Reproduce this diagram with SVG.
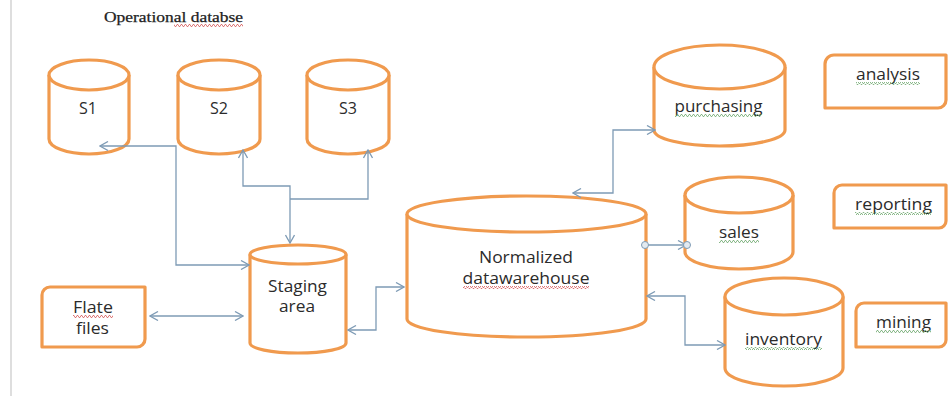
<svg xmlns="http://www.w3.org/2000/svg" width="948" height="396" viewBox="0 0 948 396">
<defs>
<style>
.shape{fill:#fff;stroke:#F09A4E;stroke-width:3.2;stroke-linejoin:round}
.conn{fill:none;stroke:#7E9BB5;stroke-width:1.3}
.lbl{font-family:"Open Sans","Liberation Sans",sans-serif;font-size:15.5px;fill:#2b2b2b;text-anchor:middle}
.title{font-family:"Liberation Serif","DejaVu Serif",serif;font-size:14.5px;fill:#222;text-anchor:middle;stroke:#222;stroke-width:0.25}
.sqr{fill:url(#zigR)}
.sqg{fill:url(#zigG)}
</style>
<marker id="arr" viewBox="0 0 10 10" refX="9" refY="5" markerWidth="10" markerHeight="10" markerUnits="userSpaceOnUse" orient="auto-start-reverse">
<path d="M1,0.5 L9,5 L1,9.5" fill="none" stroke="#7E9BB5" stroke-width="1.3"/>
</marker>
<pattern id="zigR" width="4" height="3" patternUnits="userSpaceOnUse">
<path d="M0,2.5 L1,0.5 L2,0.5 L3,2.5 L4,2.5" fill="none" stroke="#D45A5A" stroke-width="0.8"/>
</pattern>
<pattern id="zigG" width="4" height="3" patternUnits="userSpaceOnUse">
<path d="M0,2.5 L1,0.5 L2,0.5 L3,2.5 L4,2.5" fill="none" stroke="#6FA86F" stroke-width="0.8"/>
</pattern>
</defs>

<rect width="948" height="396" fill="#fff"/>
<line x1="11" y1="0" x2="11" y2="396" stroke="#C8C8C8" stroke-width="1.2"/>

<g id="title">
<text class="title" x="173.5" y="22" textLength="139" lengthAdjust="spacingAndGlyphs">Operational databse</text>
<rect class="sqr" x="174" y="24" width="69" height="3"/>
</g>

<g id="S1">
<path class="shape" d="M49,75 V139 A40,15 0 0 0 129,139 V75"/>
<ellipse class="shape" cx="89" cy="75" rx="40" ry="15"/>
<text class="lbl" x="88" y="114" textLength="18" lengthAdjust="spacingAndGlyphs">S1</text>
</g>
<g id="S2">
<path class="shape" d="M178,75 V139 A41,15 0 0 0 260,139 V75"/>
<ellipse class="shape" cx="219" cy="75" rx="41" ry="15"/>
<text class="lbl" x="219" y="114" textLength="18" lengthAdjust="spacingAndGlyphs">S2</text>
</g>
<g id="S3">
<path class="shape" d="M307,75 V139 A41,15 0 0 0 389,139 V75"/>
<ellipse class="shape" cx="348" cy="75" rx="41" ry="15"/>
<text class="lbl" x="348" y="114" textLength="18" lengthAdjust="spacingAndGlyphs">S3</text>
</g>

<g id="staging">
<path class="shape" d="M250,254.5 V343 A48,10 0 0 0 346,343 V254.5"/>
<ellipse class="shape" cx="298" cy="254.5" rx="48" ry="9.5"/>
<text class="lbl" x="297.5" y="292" textLength="59" lengthAdjust="spacingAndGlyphs">Staging</text>
<text class="lbl" x="297" y="312" textLength="36" lengthAdjust="spacingAndGlyphs">area</text>
</g>

<g id="flate">
<path class="shape" d="M50,287 H145 V339 A8,8 0 0 1 137,347 H42 V295 A8,8 0 0 1 50,287 Z"/>
<text class="lbl" x="93" y="313" textLength="40" lengthAdjust="spacingAndGlyphs">Flate</text>
<rect class="sqr" x="73" y="315" width="40" height="3"/>
<text class="lbl" x="92.5" y="334" textLength="33" lengthAdjust="spacingAndGlyphs">files</text>
</g>

<g id="normalized">
<path class="shape" d="M407,214 V319 A119.5,18 0 0 0 646,319 V214"/>
<ellipse class="shape" cx="526.5" cy="214" rx="119.5" ry="18"/>
<text class="lbl" x="526" y="263" textLength="94" lengthAdjust="spacingAndGlyphs">Normalized</text>
<text class="lbl" x="526" y="284" textLength="127" lengthAdjust="spacingAndGlyphs">datawarehouse</text>
<rect class="sqr" x="463" y="286" width="126" height="3"/>
</g>

<g id="purchasing">
<path class="shape" d="M654,67 V130 A65.5,16 0 0 0 785,130 V67"/>
<ellipse class="shape" cx="719.5" cy="67" rx="65.5" ry="22"/>
<text class="lbl" x="718.5" y="112" textLength="88" lengthAdjust="spacingAndGlyphs">purchasing</text>
<rect class="sqg" x="675" y="114" width="87" height="3"/>
</g>

<g id="sales">
<path class="shape" d="M685,195 V252 A54,17 0 0 0 793,252 V195"/>
<ellipse class="shape" cx="739" cy="195" rx="54" ry="18"/>
<text class="lbl" x="739" y="238" textLength="40" lengthAdjust="spacingAndGlyphs">sales</text>
<rect class="sqg" x="719" y="240" width="40" height="3"/>
</g>

<g id="inventory">
<path class="shape" d="M725,296.5 V368 A59,18 0 0 0 843,368 V296.5"/>
<ellipse class="shape" cx="784" cy="296.5" rx="59" ry="18.5"/>
<text class="lbl" x="783.5" y="345" textLength="77" lengthAdjust="spacingAndGlyphs">inventory</text>
<rect class="sqg" x="745" y="347" width="77" height="3"/>
</g>

<g id="analysis">
<path class="shape" d="M834,55 H946 V100 A8,8 0 0 1 938,108 H825 V64 A9,9 0 0 1 834,55 Z"/>
<text class="lbl" x="888" y="80" textLength="64" lengthAdjust="spacingAndGlyphs">analysis</text>
<rect class="sqg" x="856" y="82" width="64" height="3"/>
</g>

<g id="reporting">
<path class="shape" d="M842,185 H946 V221 A7,7 0 0 1 939,228 H834 V193 A8,8 0 0 1 842,185 Z"/>
<text class="lbl" x="893.5" y="210" textLength="77" lengthAdjust="spacingAndGlyphs">reporting</text>
<rect class="sqg" x="855" y="212" width="77" height="3"/>
</g>

<g id="mining">
<path class="shape" d="M864,303 H946 V340 A7,7 0 0 1 939,347 H856 V311 A8,8 0 0 1 864,303 Z"/>
<text class="lbl" x="903.5" y="328" textLength="55" lengthAdjust="spacingAndGlyphs">mining</text>
<rect class="sqg" x="876" y="330" width="55" height="3"/>
</g>

<g id="connectors">
<path class="conn" d="M100,146 H176 V265 H249" marker-start="url(#arr)" marker-end="url(#arr)"/>
<path class="conn" d="M243,150 V186 H290 V243" marker-start="url(#arr)" marker-end="url(#arr)"/>
<path class="conn" d="M368,150 V199 H290" marker-start="url(#arr)"/>
<path class="conn" d="M150,316 H243" marker-start="url(#arr)" marker-end="url(#arr)"/>
<path class="conn" d="M348,330 H376 V287 H404" marker-start="url(#arr)" marker-end="url(#arr)"/>
<path class="conn" d="M573,193 H613 V130 H655" marker-start="url(#arr)" marker-end="url(#arr)"/>
<path class="conn" d="M646,245 H686" marker-end="url(#arr)"/>
<path class="conn" d="M647,296 H685 V345 H725" marker-start="url(#arr)" marker-end="url(#arr)"/>
<circle cx="645" cy="245" r="3.5" fill="#E3EAF0" stroke="#7E9BB5" stroke-width="1"/>
<circle cx="687" cy="245" r="3.5" fill="#E3EAF0" stroke="#7E9BB5" stroke-width="1"/>
</g>
</svg>
